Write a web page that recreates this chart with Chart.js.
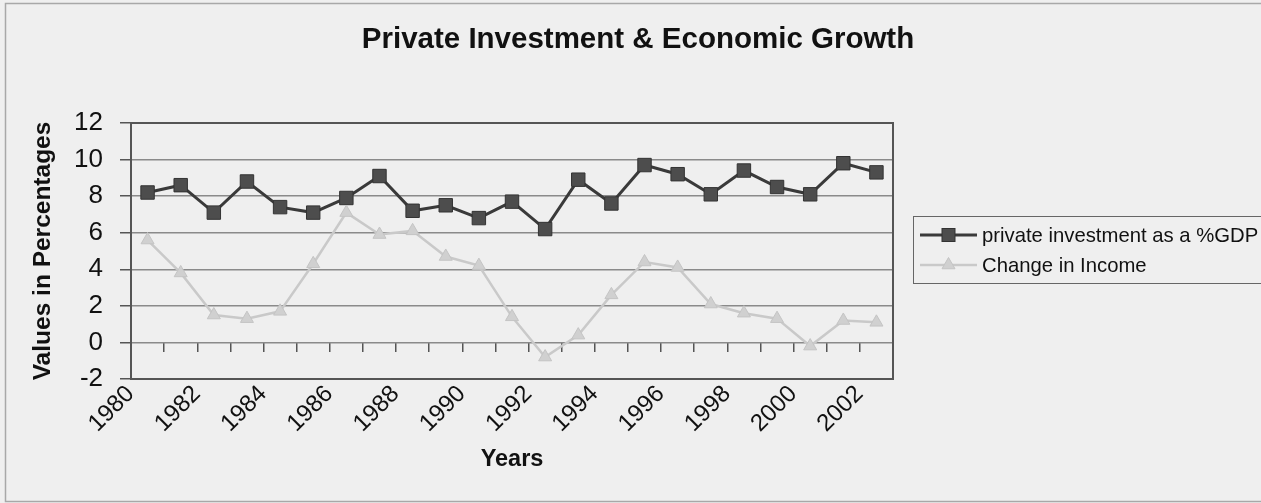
<!DOCTYPE html>
<html>
<head>
<meta charset="utf-8">
<script src="https://cdn.jsdelivr.net/npm/chart.js@4.4.1/dist/chart.umd.min.js"></script>
<style>
html, body { margin: 0; padding: 0; background: #efefef; }
#wrap { width: 1261px; height: 503px; position: relative; overflow: hidden; }
canvas { display: block; }
</style>
</head>
<body>
<div id="wrap"><canvas id="c" width="1261" height="503"></canvas></div>
<script>
const chartTitle = 'Private Investment & Economic Growth';
const xAxisTitle = 'Years';
const yAxisTitle = 'Values in Percentages';
const years = ['1980','1981','1982','1983','1984','1985','1986','1987','1988','1989','1990','1991',
               '1992','1993','1994','1995','1996','1997','1998','1999','2000','2001','2002'];
const investmentLabel = 'private investment as a %GDP';
const incomeLabel = 'Change in Income';
const privateInvestment = [8.2, 8.6, 7.1, 8.8, 7.4, 7.1, 7.9, 9.1, 7.2, 7.5, 6.8, 7.7,
                           6.2, 8.9, 7.6, 9.7, 9.2, 8.1, 9.4, 8.5, 8.1, 9.8, 9.3];
const changeInIncome = [5.6, 3.8, 1.5, 1.3, 1.7, 4.3, 7.1, 5.9, 6.1, 4.7, 4.2, 1.4,
                        -0.8, 0.4, 2.6, 4.4, 4.1, 2.1, 1.6, 1.3, -0.2, 1.2, 1.1];
const yMin = -2, yMax = 12, yStep = 2;

const FONT = "'Liberation Sans', Arial, sans-serif";
Chart.defaults.font.family = FONT;
Chart.defaults.color = '#111';

const decorPlugin = {
  id: 'decor',
  beforeDraw(chart) {
    const ctx = chart.ctx;
    ctx.save();
    ctx.fillStyle = '#efefef';
    ctx.fillRect(0, 0, chart.width, chart.height);
    ctx.strokeStyle = '#a8a8a8';
    ctx.lineWidth = 1.5;
    ctx.strokeRect(5.5, 3.5, chart.width + 10, chart.height - 5);
    ctx.restore();
  },
  beforeDatasetsDraw(chart) {
    const ctx = chart.ctx, a = chart.chartArea;
    ctx.save();
    ctx.strokeStyle = '#555';
    ctx.lineWidth = 2;
    ctx.strokeRect(a.left, a.top, a.right - a.left, a.bottom - a.top);
    ctx.restore();
  },
  afterDraw(chart) {
    const ctx = chart.ctx;
    ctx.save();
    // title
    ctx.fillStyle = '#111';
    ctx.font = 'bold 29.5px ' + FONT;
    ctx.textAlign = 'center';
    ctx.textBaseline = 'middle';
    ctx.fillText(chartTitle, 638, 40);
    // legend
    ctx.strokeStyle = '#666';
    ctx.lineWidth = 1;
    ctx.strokeRect(913.5, 216.5, 400, 67);
    const ds = chart.data.datasets;
    const rows = [235, 265];
    ds.forEach((d, i) => {
      const y = rows[i];
      ctx.strokeStyle = d.borderColor;
      ctx.lineWidth = d.borderWidth;
      ctx.beginPath(); ctx.moveTo(920, y); ctx.lineTo(977, y); ctx.stroke();
      ctx.fillStyle = d.pointBackgroundColor;
      ctx.strokeStyle = d.pointBorderColor;
      ctx.lineWidth = 1;
      const cx = 948.5;
      if (d.pointStyle === 'rect') {
        ctx.fillRect(cx - 6.5, y - 6.5, 13, 13);
        ctx.strokeRect(cx - 6.5, y - 6.5, 13, 13);
      } else {
        ctx.beginPath();
        ctx.moveTo(cx, y - 7.5);
        ctx.lineTo(cx + 6.5, y + 3.75);
        ctx.lineTo(cx - 6.5, y + 3.75);
        ctx.closePath();
        ctx.fill(); ctx.stroke();
      }
      ctx.fillStyle = '#111';
      ctx.font = '20.3px ' + FONT;
      ctx.textAlign = 'left';
      ctx.textBaseline = 'middle';
      ctx.fillText(d.label, 982, y + 1);
    });
    ctx.restore();
  }
};

new Chart(document.getElementById('c'), {
  type: 'line',
  data: {
    labels: years,
    datasets: [
      {
        label: investmentLabel,
        data: privateInvestment,
        xAxisID: 'x', yAxisID: 'y',
        order: 1,
        borderColor: '#3a3a3a',
        borderWidth: 3,
        pointStyle: 'rect',
        pointRadius: 9.5,
        pointBackgroundColor: '#4d4d4d',
        pointBorderColor: '#333',
        pointBorderWidth: 1,
        tension: 0,
        fill: false
      },
      {
        label: incomeLabel,
        data: changeInIncome,
        xAxisID: 'x', yAxisID: 'y',
        order: 0,
        borderColor: '#c9c9c9',
        borderWidth: 2.5,
        pointStyle: 'triangle',
        pointRadius: 7.5,
        pointBackgroundColor: '#d0d0d0',
        pointBorderColor: '#c4c4c4',
        pointBorderWidth: 1,
        tension: 0,
        fill: false
      }
    ]
  },
  options: {
    responsive: false,
    maintainAspectRatio: false,
    devicePixelRatio: 1,
    animation: false,
    layout: { padding: { top: 123, right: 368, bottom: 0, left: 0 } },
    plugins: {
      legend: { display: false },
      title: { display: false },
      tooltip: { enabled: false }
    },
    scales: {
      x: {
        type: 'category',
        position: 'bottom',
        offset: true,
        grid: { display: false, drawTicks: false },
        border: { display: false },
        ticks: {
          autoSkip: false,
          minRotation: 45,
          maxRotation: 45,
          labelOffset: -17,
          padding: 1,
          color: '#111',
          font: { size: 24 },
          callback: (v, i) => (i % 2 === 0 ? years[i] : '')
        },
        title: {
          display: true,
          text: xAxisTitle,
          color: '#111',
          font: { size: 23.5, weight: 'bold' },
          padding: { top: 0, bottom: 29 }
        },
        afterFit: (s) => { s.height = 124; }
      },
      x2: {
        type: 'category',
        position: { y: 0 },
        offset: true,
        grid: { offset: true, drawOnChartArea: false, drawTicks: true, tickLength: 10, color: '#555', lineWidth: 1.5 },
        border: { display: false },
        ticks: { display: false }
      },
      y: {
        type: 'linear',
        position: 'left',
        min: yMin,
        max: yMax,
        ticks: { stepSize: yStep, color: '#111', font: { size: 26 }, padding: 17 },
        grid: { color: '#8a8a8a', lineWidth: 1.5, drawTicks: true, tickLength: 11, tickColor: '#555' },
        border: { display: false },
        title: {
          display: true,
          text: yAxisTitle,
          color: '#111',
          font: { size: 24.5, weight: 'bold' },
          padding: { top: 29, bottom: 0 }
        },
        afterFit: (s) => { s.width = 131; }
      }
    }
  },
  plugins: [decorPlugin]
});
</script>
</body>
</html>
